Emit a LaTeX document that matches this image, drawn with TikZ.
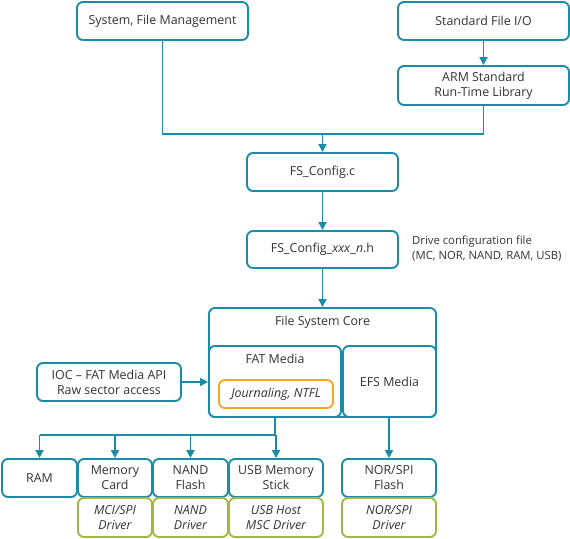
\documentclass[tikz,border=0pt]{standalone}
\usepackage{fontspec}
\setmainfont{Open Sans}
\usepackage{xcolor}
\usetikzlibrary{arrows.meta,positioning,calc}
\definecolor{fsblue}{HTML}{1A8CA9}
\definecolor{fsorange}{HTML}{F5A623}
\definecolor{fsgreen}{HTML}{A0B93C}
\definecolor{fstext}{HTML}{333333}
\begin{document}
\begin{tikzpicture}[x=1pt, y=-1pt,
    box/.style={draw=fsblue, line width=1.9pt, rounded corners=6pt, fill=white, align=center, text=fstext, font=\fontsize{12.4}{15}\selectfont, inner sep=0pt},
    drvbox/.style={box, draw=fsgreen, font=\fontsize{12.4}{15}\selectfont\itshape},
    link/.style={draw=fsblue, line width=1.9pt},
    arrow/.style={link, -{Triangle[width=8pt, length=8pt]}}
]
    \useasboundingbox (0,0) rectangle (570,538);

    % Top level
    \node[box, minimum width=171pt, minimum height=38pt] (sysmgmt) at (162.5,21) {System, File Management};
    \node[box, minimum width=171pt, minimum height=38pt] (stdio) at (483.5,21) {Standard File I/O};
    \node[box, minimum width=171pt, minimum height=39pt] (armlib) at (483.5,85.5) {ARM Standard \\ Run-Time Library};

    % Configuration files
    \node[box, minimum width=151pt, minimum height=38pt] (config) at (322.5,172) {FS\_Config.c};
    \node[box, minimum width=151pt, minimum height=37pt] (drvcfg) at (322.5,249.5) {FS\_Config\_\textit{xxx}\_\textit{n}.h};
    \node[anchor=west, align=left, text=fstext, font=\fontsize{11.3}{15}\selectfont, inner sep=0pt] (drvnote) at (412,249) {Drive configuration file \\ (MC, NOR, NAND, RAM, USB)};

    % File system core
    \node[box, minimum width=227pt, minimum height=109pt] (core) at (322.5,362.5) {};
    \node[text=fstext, font=\fontsize{12.4}{15}\selectfont] (corelbl) at (322.5,322) {File System Core};
    \node[box, minimum width=132pt, minimum height=71pt] (fat) at (275,381.5) {};
    \node[text=fstext, font=\fontsize{12.4}{15}\selectfont] (fatlbl) at (275,359) {FAT Media};
    \node[box, minimum width=93pt, minimum height=71pt] (efs) at (389.5,381.5) {EFS Media};
    \node[box, draw=fsorange, minimum width=114pt, minimum height=28pt, font=\fontsize{12.4}{15}\selectfont\itshape] (jrnl) at (276,394) {Journaling, NTFL};
    \node[box, minimum width=144pt, minimum height=38pt] (ioc) at (109,382) {IOC -- FAT Media API \\ Raw sector access};

    % Drives
    \node[box, minimum width=75pt, minimum height=38pt] (ram) at (39.5,478) {RAM};
    \node[box, minimum width=74pt, minimum height=38pt] (mcard) at (115,478) {Memory \\ Card};
    \node[box, minimum width=75pt, minimum height=38pt] (nand) at (190.5,478) {NAND \\ Flash};
    \node[box, minimum width=94pt, minimum height=38pt] (usb) at (276,478) {USB Memory \\ Stick};
    \node[box, minimum width=94pt, minimum height=38pt] (nor) at (389,478) {NOR/SPI \\ Flash};

    % Drivers
    \node[drvbox, minimum width=74pt, minimum height=39pt] (mcidrv) at (115,517.5) {MCI/SPI \\ Driver};
    \node[drvbox, minimum width=75pt, minimum height=39pt] (nanddrv) at (190.5,517.5) {NAND \\ Driver};
    \node[drvbox, minimum width=94pt, minimum height=39pt] (usbdrv) at (276,517.5) {USB Host \\ MSC Driver};
    \node[drvbox, minimum width=94pt, minimum height=39pt] (nordrv) at (389,517.5) {NOR/SPI \\ Driver};

    % Connectors
    \coordinate (join) at (322.5,134);
    \coordinate (split) at (275,435);
    \draw[link] (sysmgmt.south) |- (join) -| (armlib.south);
    \draw[arrow] (stdio) -- (armlib);
    \draw[arrow] (join) -- (config);
    \draw[arrow] (config) -- (drvcfg);
    \draw[arrow] (drvcfg) -- (core);
    \draw[arrow] (ioc.east) -- (ioc.east -| fat.west);
    \draw[link] (fat.south) -- (split) -- (split -| ram);
    \draw[arrow] (split -| ram) -- (ram);
    \draw[arrow] (split -| mcard) -- (mcard);
    \draw[arrow] (split -| nand) -- (nand);
    \draw[arrow] (split -| usb) -- (usb);
    \draw[arrow] (efs.south -| nor) -- (nor);
\end{tikzpicture}
\end{document}
